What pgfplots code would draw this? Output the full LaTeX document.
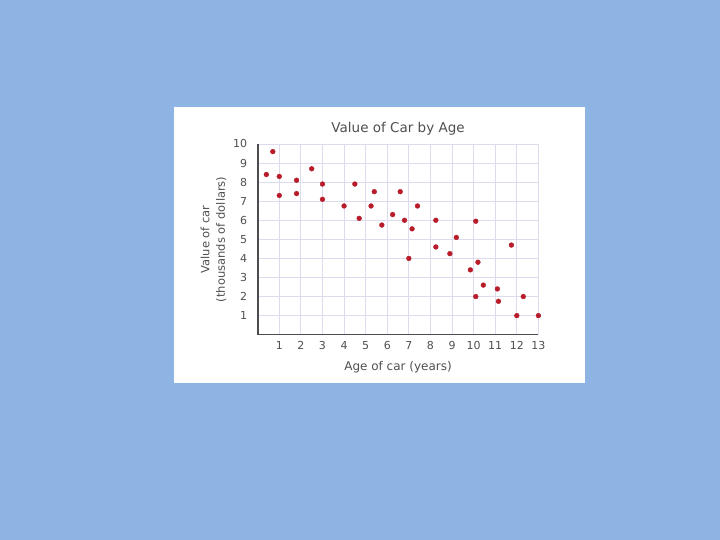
\documentclass[border=0pt]{standalone}
\usepackage{pgfplots}
\pgfplotsset{compat=1.18}
\usepackage{fontspec}
\setmainfont{DejaVu Sans}
\definecolor{bgblue}{HTML}{8EB4E3}
\definecolor{dotred}{HTML}{B81C2A}
\definecolor{gridc}{HTML}{DCDCEE}
\definecolor{txt}{HTML}{505050}
\begin{document}
\begin{tikzpicture}[x=1pt,y=1pt]
\fill[bgblue] (0,0) rectangle (720,540);
\fill[white] (174,157) rectangle (585,433);
\begin{axis}[
  at={(257.7pt,205.3pt)}, anchor=south west,
  scale only axis, width=280.7pt, height=190.7pt,
  xmin=0, xmax=13, ymin=0, ymax=10,
  axis lines=left,
  axis line style={-, line width=1.6pt, color=black!70},
  xtick={1,...,13}, ytick={1,...,10},
  major tick length=0pt,
  grid=major,
  major grid style={gridc, line width=0.8pt},
  /pgf/number format/assume math mode=true,
  tick label style={font=\fontsize{11}{13}\selectfont, text=txt},
  xticklabel style={yshift=-3pt},
  yticklabel style={xshift=-7pt},
  title={Value of Car by Age},
  title style={font=\fontsize{13.5}{16}\selectfont, text=txt, yshift=-1pt},
  xlabel={Age of car (years)},
  xlabel style={font=\fontsize{12}{14}\selectfont, text=txt, yshift=-5pt},
  ylabel={Value of car\\(thousands of dollars)},
  ylabel style={font=\fontsize{11.5}{15.5}\selectfont, text=txt, align=center},
  clip=false,
]
\addplot[only marks, mark=*, mark size=2.4pt, color=dotred] coordinates {
(0.4,8.4) (0.7,9.6) (1.0,8.3) (1.0,7.3) (1.8,8.1) (1.8,7.4) (2.5,8.7)
(3.0,7.9) (3.0,7.1) (4.0,6.75) (4.5,7.9) (4.7,6.1) (5.25,6.75) (5.4,7.5)
(5.75,5.75) (6.25,6.3) (6.6,7.5) (6.8,6.0) (7.15,5.55) (7.0,4.0) (7.4,6.75)
(8.25,6.0) (8.25,4.6) (8.9,4.25) (9.2,5.1) (9.85,3.4) (10.1,5.95) (10.2,3.8)
(10.1,2.0) (10.45,2.6) (11.1,2.4) (11.15,1.75) (11.75,4.7) (12.3,2.0)
(12.0,1.0) (13.0,1.0)
};
\end{axis}
\end{tikzpicture}
\end{document}
